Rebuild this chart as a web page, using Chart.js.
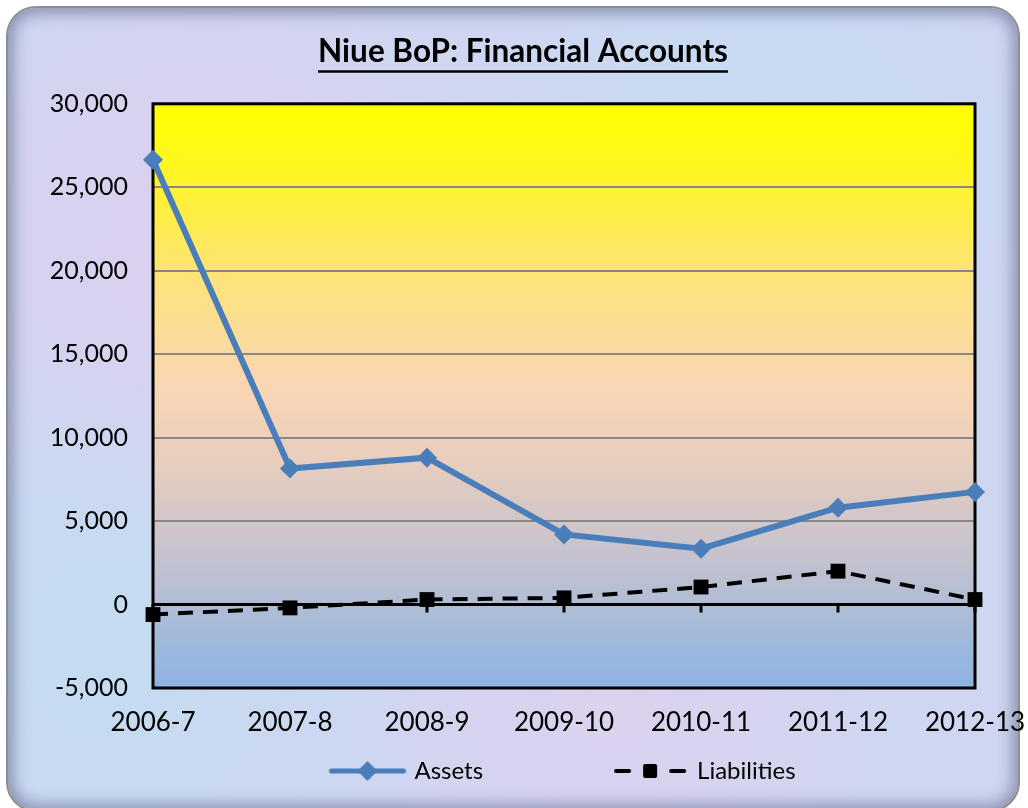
<!DOCTYPE html>
<html>
<head>
<meta charset="utf-8">
<script src="https://cdn.jsdelivr.net/npm/chart.js@4.4.1/dist/chart.umd.min.js"></script>
<style>
  html, body { margin: 0; padding: 0; width: 1028px; height: 808px; overflow: hidden; background: #ffffff; }
  #frame {
    position: absolute; left: 6px; top: 6px; width: 1014px; height: 806px;
    border: 2px solid #8e8e8e; border-radius: 30px; box-sizing: border-box;
    background:
      radial-gradient(circle at 20% 30%, rgba(235,200,235,0.55), rgba(235,200,235,0) 30%),
      radial-gradient(circle at 75% 20%, rgba(190,225,245,0.6), rgba(190,225,245,0) 30%),
      radial-gradient(circle at 60% 85%, rgba(235,205,235,0.5), rgba(235,205,235,0) 30%),
      radial-gradient(circle at 10% 80%, rgba(185,225,240,0.55), rgba(185,225,240,0) 30%),
      #cfd6f1;
    box-shadow: inset 0 0 16px 5px rgba(95,105,140,0.65);
  }
  #wrap { position: absolute; left: 0; top: 0; width: 1028px; height: 808px; }
</style>
</head>
<body>
<div id="frame"></div>
<div id="wrap"><canvas id="c" width="1028" height="808"></canvas></div>
<script>
const categories = ["2006-7", "2007-8", "2008-9", "2009-10", "2010-11", "2011-12", "2012-13"];
const assets = [26650, 8150, 8800, 4200, 3350, 5800, 6750];
const liabilities = [-600, -200, 300, 400, 1050, 2000, 300];
const yMin = -5000, yMax = 30000, yStep = 5000;
const titleText = "Niue BoP: Financial Accounts";
const seriesNames = ["Assets", "Liabilities"];

const FONT = "Lato, 'Open Sans', sans-serif";
const blue = "#4A7EBB";

function makeIcon(kind) {
  const cv = document.createElement('canvas');
  cv.width = 80; cv.height = 24;
  const g = cv.getContext('2d');
  const cy = 12;
  if (kind === 'assets') {
    g.strokeStyle = blue; g.lineWidth = 5; g.lineCap = 'round';
    g.beginPath(); g.moveTo(4, cy); g.lineTo(76, cy); g.stroke();
    g.fillStyle = blue;
    g.beginPath(); g.moveTo(40, cy - 10); g.lineTo(50, cy); g.lineTo(40, cy + 10); g.lineTo(30, cy); g.closePath(); g.fill();
  } else if (kind === 'liab') {
    g.strokeStyle = '#000'; g.lineWidth = 4; g.lineCap = 'round';
    g.beginPath(); g.moveTo(6, cy); g.lineTo(19, cy); g.stroke();
    g.beginPath(); g.moveTo(61, cy); g.lineTo(74, cy); g.stroke();
    g.fillStyle = '#000';
    g.beginPath(); g.roundRect(33, cy - 7, 14, 14, 2); g.fill();
  }
  return cv;
}
const icons = [makeIcon('assets'), makeIcon('liab')];
const blankIcon = makeIcon('blank');

const plotDecor = {
  id: 'plotDecor',
  beforeDraw(chart) {
    const a = chart.chartArea, ctx = chart.ctx;
    const gr = ctx.createLinearGradient(0, a.top, 0, a.bottom);
    gr.addColorStop(0, '#FFFF00');
    gr.addColorStop(0.12, '#FFF524');
    gr.addColorStop(0.30, '#FEE37C');
    gr.addColorStop(0.48, '#FAD6B4');
    gr.addColorStop(0.62, '#E6CDBE');
    gr.addColorStop(0.78, '#C4C2CF');
    gr.addColorStop(1, '#8DB3E2');
    ctx.save();
    ctx.fillStyle = gr;
    ctx.fillRect(a.left, a.top, a.right - a.left, a.bottom - a.top);
    ctx.restore();
  },
  beforeDatasetsDraw(chart) {
    const a = chart.chartArea, ctx = chart.ctx;
    const ys = chart.scales.y, xs = chart.scales.x;
    const y0 = ys.getPixelForValue(0);
    ctx.save();
    ctx.strokeStyle = '#000';
    ctx.lineWidth = 3;
    ctx.beginPath(); ctx.moveTo(a.left, y0); ctx.lineTo(a.right, y0); ctx.stroke();
    for (let i = 0; i < categories.length; i++) {
      const x = xs.getPixelForValue(i);
      ctx.beginPath(); ctx.moveTo(x, y0); ctx.lineTo(x, y0 + 8); ctx.stroke();
    }
    ctx.lineWidth = 3;
    ctx.strokeRect(a.left, a.top, a.right - a.left, a.bottom - a.top);
    ctx.restore();
  },
  afterDraw(chart) {
    const tb = chart.titleBlock, ctx = chart.ctx;
    if (!tb) return;
    const f = chart.options.plugins.title.font;
    ctx.save();
    ctx.font = 'bold ' + f.size + 'px ' + FONT;
    const w = ctx.measureText(titleText).width;
    const cx = tb.left + tb.width / 2;
    const pad = chart.options.plugins.title.padding;
    const cy = tb.top + pad.top + f.size * 1.2 / 2;
    const uy = Math.round(cy + f.size * 0.62) + 0.5;
    ctx.strokeStyle = '#000';
    ctx.lineWidth = 2.5;
    ctx.beginPath(); ctx.moveTo(cx - w / 2, uy); ctx.lineTo(cx + w / 2, uy); ctx.stroke();
    ctx.restore();
  }
};

new Chart(document.getElementById('c'), {
  type: 'line',
  data: {
    labels: categories,
    datasets: [
      {
        label: seriesNames[0], data: assets,
        borderColor: blue, backgroundColor: blue, borderWidth: 6,
        pointStyle: 'rectRot', pointRadius: 10, pointBackgroundColor: blue, pointBorderWidth: 0,
        tension: 0, clip: false
      },
      {
        label: seriesNames[1], data: liabilities,
        borderColor: '#000', backgroundColor: '#000', borderWidth: 4, borderDash: [15, 10],
        pointStyle: 'rect', pointRadius: 10.5, pointBackgroundColor: '#000', pointBorderWidth: 0,
        tension: 0, clip: false
      }
    ]
  },
  options: {
    responsive: false,
    animation: false,
    devicePixelRatio: 1,
    layout: { padding: { left: 18, right: 0, top: 0, bottom: 15 } },
    plugins: {
      title: {
        display: true, text: titleText, color: '#000',
        font: { family: FONT, size: 31.5, weight: 'bold', lineHeight: 1.2 },
        padding: { top: 33, bottom: 33 }
      },
      legend: {
        position: 'bottom', fullSize: false,
        labels: {
          usePointStyle: true, pointStyleWidth: 70, padding: 25,
          color: '#000', font: { family: FONT, size: 24 },
          generateLabels(chart) {
            const items = Chart.defaults.plugins.legend.labels.generateLabels(chart);
            items.forEach((it, i) => { it.pointStyle = icons[i]; it.lineWidth = 0; });
            const spacer = Object.assign({}, items[0], { text: '', pointStyle: blankIcon, datasetIndex: -1 });
            return [items[0], spacer, items[1]];
          }
        }
      },
      tooltip: { enabled: false }
    },
    scales: {
      x: {
        type: 'category', offset: false,
        afterFit(s) { s.paddingLeft = 0; s.paddingRight = 0; s.height = 46; },
        grid: { display: false, drawTicks: false },
        border: { display: false },
        ticks: { color: '#000', font: { family: FONT, size: 26 }, padding: 19, autoSkip: false, maxRotation: 0 }
      },
      y: {
        min: yMin, max: yMax,
        afterFit(s) { s.width = 135; s.paddingTop = 0; s.paddingBottom = 0; },
        grid: {
          drawTicks: false, lineWidth: 2,
          color: (c) => (c.tick && c.tick.value === 0) ? 'rgba(0,0,0,0)' : '#878787'
        },
        border: { display: false },
        ticks: {
          stepSize: yStep, color: '#000', padding: 25,
          font: { family: FONT, size: 25 },
          callback: (v) => Number(v).toLocaleString('en-US')
        }
      },
      y2: {
        position: 'right',
        afterFit(s) { s.width = 53; },
        grid: { display: false, drawTicks: false },
        border: { display: false },
        ticks: { display: false }
      }
    }
  },
  plugins: [plotDecor]
});
</script>
</body>
</html>
